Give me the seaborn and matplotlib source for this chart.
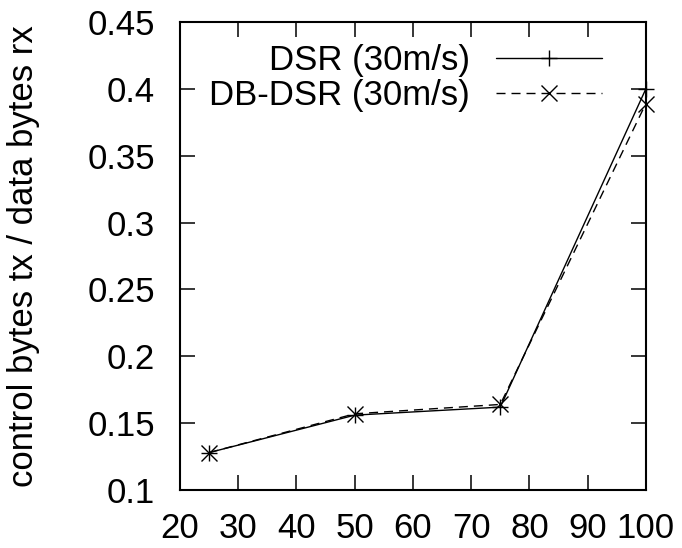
import numpy as np
import pandas as pd
import matplotlib
matplotlib.use("Agg")
import matplotlib.pyplot as plt
import seaborn as sns

# ==========================================================
# data
# ==========================================================

speed = [25, 50, 75, 100]
dsr = [0.128, 0.156, 0.162, 0.400]
db_dsr = [0.128, 0.157, 0.164, 0.389]
labels = ["DSR (30m/s)", "DB-DSR (30m/s)"]

df = pd.DataFrame({
    "x": speed * 2,
    "y": dsr + db_dsr,
    "proto": [labels[0]] * 4 + [labels[1]] * 4,
})

# ==========================================================
# plot
# ==========================================================

sns.set_theme(style="white", rc={
    "text.color": "black",
    "axes.labelcolor": "black",
    "xtick.color": "black",
    "ytick.color": "black",
    "axes.edgecolor": "black",
})
plt.rcParams["font.family"] = ["Liberation Sans", "DejaVu Sans"]

FS = 25

fig = plt.figure(figsize=(6.82, 5.48), dpi=100)
ax = fig.add_axes([0.264, 0.1058, 0.683, 0.854])

sns.lineplot(
    data=df, x="x", y="y", hue="proto", style="proto",
    hue_order=labels, style_order=labels,
    palette=["black", "black"],
    dashes={labels[0]: "", labels[1]: (6.5, 4.3)},
    markers={labels[0]: "+", labels[1]: "x"},
    markersize=11, markeredgewidth=1.0, linewidth=1.0,
    markeredgecolor="black",
    legend=False, ax=ax,
)
for ln in ax.lines:
    ln.set_markeredgecolor("black")
    ln.set_clip_on(False)

ax.set_xlim(20, 100)
ax.set_ylim(0.1, 0.45)
ax.set_xticks(np.arange(20, 101, 10))
ax.set_yticks(np.arange(0.1, 0.451, 0.05))
ax.set_yticklabels(["0.1", "0.15", "0.2", "0.25", "0.3", "0.35", "0.4", "0.45"])
ax.set_xlabel("")
ax.set_ylabel("control bytes tx / data bytes rx", fontsize=FS)
ax.yaxis.set_label_coords(-0.30, 0.5)

ax.tick_params(direction="in", length=11, width=1.1, labelsize=FS,
               top=True, right=True, bottom=True, left=True)
ax.tick_params(axis="y", pad=18)
ax.tick_params(axis="x", pad=16)
for s in ax.spines.values():
    s.set_linewidth(1.5)

leg = ax.legend(ax.lines[:2], labels, loc="upper right", frameon=False,
                fontsize=FS, markerfirst=False, handlelength=3.05,
                handletextpad=0.75, borderpad=0, borderaxespad=0,
                labelspacing=0.05, numpoints=1,
                bbox_to_anchor=(0.906, 0.953))
for t in leg.get_texts():
    t.set_ha("right")

fig.savefig("out.png", dpi=100)
